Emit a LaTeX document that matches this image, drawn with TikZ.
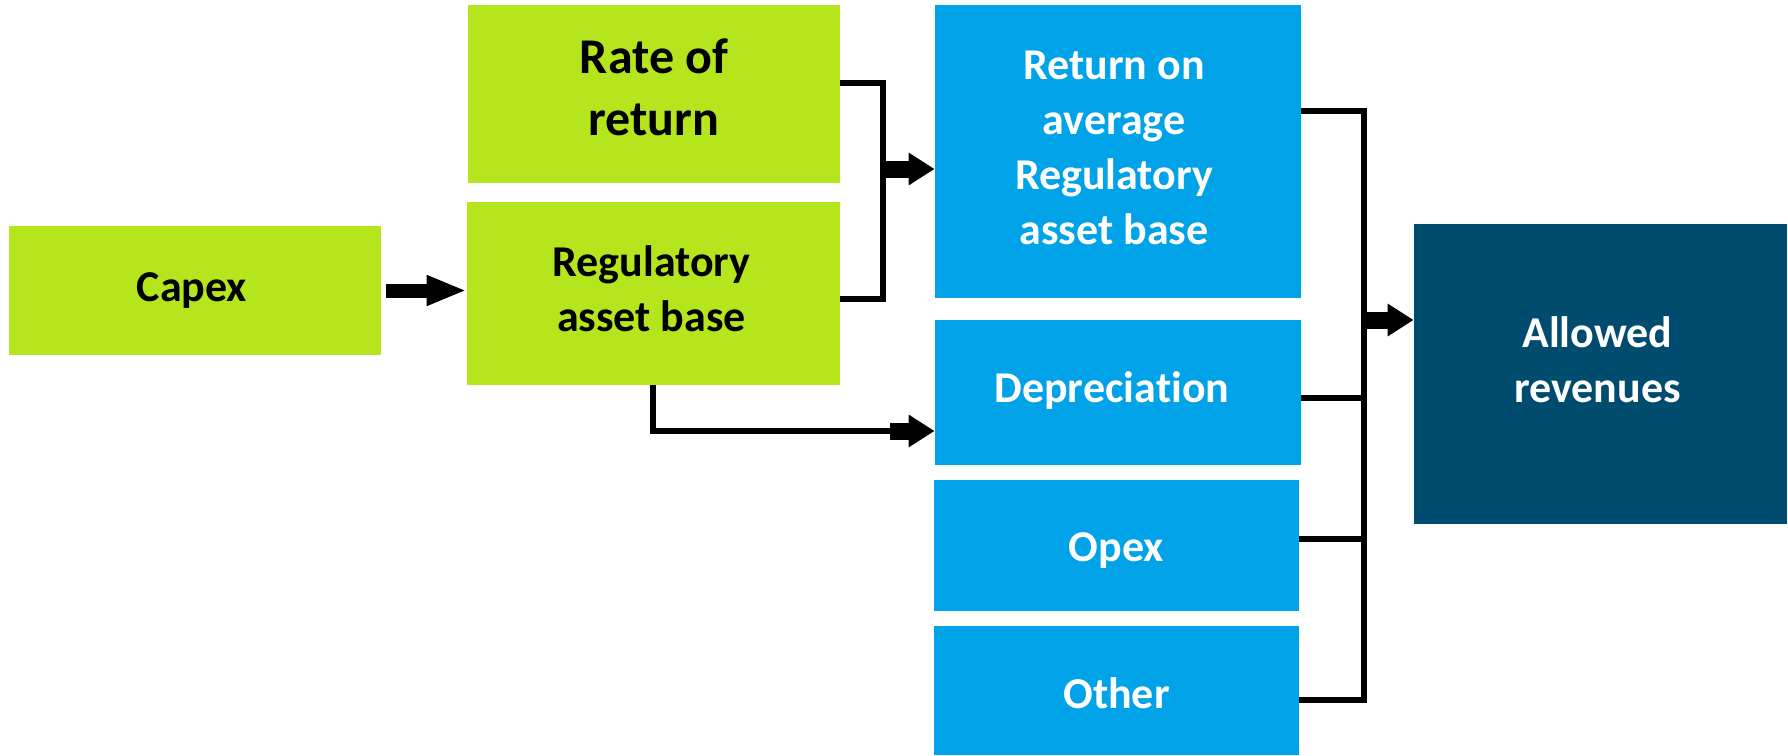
\documentclass[tikz,border=0pt]{standalone}
\usepackage{fontspec}
\setmainfont{Carlito}[Ligatures=NoCommon]
\usetikzlibrary{arrows.meta}
\definecolor{boxgreen}{RGB}{181,230,29}
\definecolor{boxblue}{RGB}{0,162,232}
\definecolor{boxnavy}{RGB}{0,76,111}
\begin{document}
\begin{tikzpicture}[x=0.5pt,y=-0.5pt,
  txt/.style={inner sep=0pt, align=center,
    font=\bfseries\fontsize{22}{27.5}\selectfont},
  box/.style={draw=none, inner sep=0pt},
  greenbox/.style={box, fill=boxgreen, text=black},
  bluebox/.style={box, fill=boxblue, text=white},
  navybox/.style={box, fill=boxnavy, text=white},
  link/.style={line width=2.75pt},
  fat/.style={line width=8.5pt, -{Triangle[length=13pt,width=15.5pt]}},
  fatlong/.style={line width=7pt, -{Triangle[length=20pt,width=14pt]}}]
\useasboundingbox (0,0) rectangle (1788,755);

% input boxes
\node[greenbox, minimum width=186pt, minimum height=64.5pt,
  label={[txt, xshift=-1.5pt]center:Capex}] (capex) at (195,290.5) {};
\node[greenbox, minimum width=186pt, minimum height=89pt,
  label={[txt, yshift=3.5pt, font=\bfseries\fontsize{25}{31}\selectfont]center:{Rate of\\return}}]
  (rate) at (654,94) {};
\node[greenbox, minimum width=186.5pt, minimum height=91.5pt,
  label={[txt, xshift=-1pt, yshift=2.5pt]center:{Regulatory\\asset base}}] (rab) at (653.5,293.5) {};

% building blocks
\node[bluebox, minimum width=183pt, minimum height=146.5pt,
  label={[txt, text=white, xshift=-2pt, yshift=2pt]center:{Return on\\average\\Regulatory\\asset base}}]
  (ret) at (1118,151.5) {};
\node[bluebox, minimum width=183pt, minimum height=72.5pt,
  label={[txt, text=white, xshift=-3pt, yshift=1pt]center:{Deprecia\kern0ptt\kern0ption}}] (dep) at (1118,392.5) {};
\node[bluebox, minimum width=182.5pt, minimum height=65.5pt,
  label={[txt, text=white, yshift=-2.5pt]center:Opex}] (opex) at (1116.5,545.5) {};
\node[bluebox, minimum width=182.5pt, minimum height=64.5pt,
  label={[txt, text=white, yshift=-1.5pt]center:Other}] (other) at (1116.5,690.5) {};

% result
\node[navybox, minimum width=186.5pt, minimum height=150pt,
  label={[txt, text=white, xshift=-1.5pt, yshift=7pt]center:{Allowed\\revenues}}] (alw) at (1600.5,374) {};

% capex feeds the asset base
\draw[fatlong] ([xshift=2.5pt]capex.east) -- (capex.east -| rab.west);

% rate of return and asset base combine
\coordinate (j1) at (883,169);
\draw[link] ([yshift=5.5pt]rate.east) -| (j1);
\draw[link] ([yshift=-2.75pt]rab.east) -| (j1);
\draw[fat] (j1) -- (j1 -| ret.west);

% asset base drives depreciation
\coordinate (k1) at (653,431);
\coordinate (k2) at (890,431);
\draw[link] (rab.south -| k1) -- (k1) -- (k2);
\draw[fat] (k2) -- (k2 -| dep.west);

% building blocks sum to allowed revenues
\coordinate (j2) at (1364,320);
\draw[link] ([yshift=20.25pt]ret.east) -| (j2);
\draw[link] ([yshift=-2.75pt]dep.east) -| (j2);
\draw[link] ([yshift=3.25pt]opex.east) -| (j2);
\draw[link] ([yshift=-4.75pt]other.east) -| (j2);
\draw[fat] (j2) -- (j2 -| alw.west);
\end{tikzpicture}
\end{document}
